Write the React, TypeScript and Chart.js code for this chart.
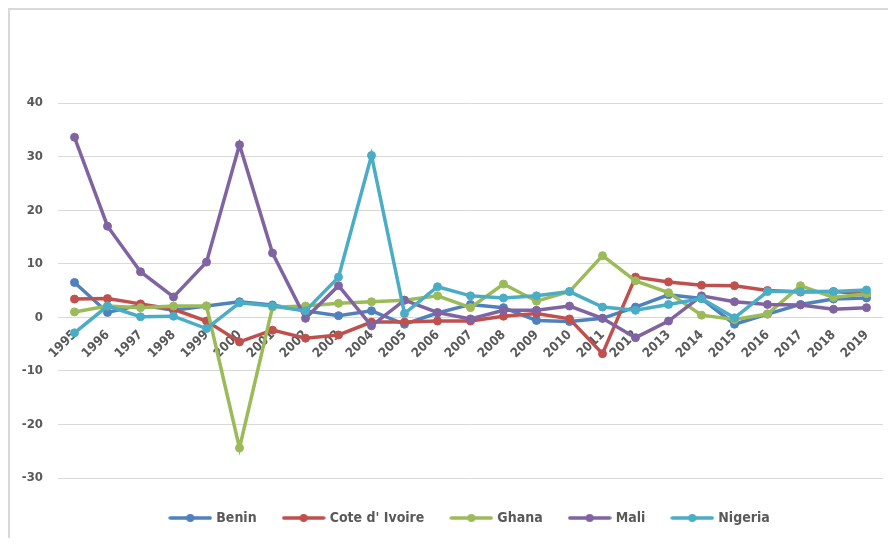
import React, { useEffect, useRef } from "react";
import { Chart, registerables } from "chart.js";

Chart.register(...registerables);

const years = [
  "1995", "1996", "1997", "1998", "1999", "2000", "2001", "2002", "2003", "2004",
  "2005", "2006", "2007", "2008", "2009", "2010", "2011", "2012", "2013", "2014",
  "2015", "2016", "2017", "2018", "2019",
];

const benin = [6.5, 0.9, 2.3, 1.3, 2.1, 2.9, 2.3, 1.2, 0.3, 1.2, -1.3, 0.8, 2.4, 1.8, -0.6, -0.8, -0.2, 1.9, 4.2, 3.5, -1.3, 0.6, 2.4, 3.4, 3.6];
const coteDIvoire = [3.4, 3.5, 2.5, 1.5, -0.7, -4.6, -2.4, -3.9, -3.3, -0.9, -0.9, -0.7, -0.7, 0.2, 0.7, -0.3, -6.8, 7.5, 6.6, 6.0, 5.9, 5.0, 4.7, 4.8, 4.4];
const ghana = [1.0, 2.1, 1.8, 2.1, 2.1, -24.4, 1.9, 2.1, 2.6, 2.9, 3.2, 4.0, 1.8, 6.2, 3.0, 4.8, 11.5, 6.8, 4.6, 0.4, -0.4, 0.6, 5.9, 3.7, 4.4];
const mali = [33.6, 17.0, 8.5, 3.8, 10.3, 32.2, 12.0, -0.2, 5.9, -1.6, 3.2, 0.9, -0.3, 1.3, 1.3, 2.1, -0.2, -3.8, -0.7, 4.0, 2.9, 2.4, 2.3, 1.5, 1.8];
const nigeria = [-2.9, 2.1, 0.1, 0.2, -2.1, 2.7, 2.1, 1.2, 7.5, 30.2, 0.7, 5.7, 4.0, 3.6, 4.0, 4.8, 1.9, 1.3, 2.4, 3.5, -0.1, 4.8, 4.8, 4.8, 5.1];

const seriesNames = ["Benin", "Cote d' Ivoire", "Ghana", "Mali", "Nigeria"];
const seriesColors = ["#4F81BD", "#C0504D", "#9BBB59", "#8064A2", "#4BACC6"];
const seriesValues = [benin, coteDIvoire, ghana, mali, nigeria];

const yMin = -30;
const yMax = 40;
const yStep = 10;

const FONT = "'Liberation Sans Narrow', 'DejaVu Sans Condensed', 'Liberation Sans', sans-serif";
const TEXT = "#595959";
const GRID = "#D9D9D9";

// Legend marker: a short line with a dot in the middle
function lineMarker(color: string): HTMLCanvasElement {
  const c = document.createElement("canvas");
  c.width = 44;
  c.height = 10;
  const g = c.getContext("2d")!;
  g.strokeStyle = color;
  g.lineWidth = 3.5;
  g.lineCap = "round";
  g.beginPath();
  g.moveTo(2, 5);
  g.lineTo(42, 5);
  g.stroke();
  g.fillStyle = color;
  g.beginPath();
  g.arc(22, 5, 4, 0, Math.PI * 2);
  g.fill();
  return c;
}

export default function App() {
  const ref = useRef<HTMLCanvasElement | null>(null);

  useEffect(() => {
    if (!ref.current) return;
    const chart = new Chart(ref.current, {
      type: "line",
      data: {
        labels: years,
        datasets: seriesNames.map((name, i) => ({
          label: name,
          data: seriesValues[i],
          borderColor: seriesColors[i],
          backgroundColor: seriesColors[i],
          pointBackgroundColor: seriesColors[i],
          pointBorderColor: seriesColors[i],
          pointStyle: "circle" as const,
          borderWidth: 3.5,
          pointRadius: 4,
          pointBorderWidth: 1,
          tension: 0,
          order: seriesNames.length - i,
        })),
      },
      options: {
        animation: false,
        responsive: true,
        maintainAspectRatio: false,
        layout: { padding: { top: 93, right: 3, left: 0, bottom: 3 } },
        plugins: {
          tooltip: { enabled: false },
          legend: {
            position: "bottom",
            fullSize: false,
            title: {
              display: true,
              text: "",
              padding: 0,
              font: { size: 5, lineHeight: 1 },
            },
            labels: {
              usePointStyle: true,
              pointStyleWidth: 38,
              padding: 28,
              color: TEXT,
              font: { family: FONT, size: 14, weight: "bold" },
              generateLabels: (ch: any) =>
                ch.data.datasets.map((ds: any, i: number) => ({
                  text: ds.label,
                  fillStyle: seriesColors[i],
                  strokeStyle: seriesColors[i],
                  fontColor: TEXT,
                  lineWidth: 0,
                  pointStyle: lineMarker(seriesColors[i]),
                  datasetIndex: i,
                  hidden: false,
                })),
            },
          },
        },
        scales: {
          x: {
            type: "category",
            offset: true,
            position: { y: 0 } as any,
            grid: { display: false, drawTicks: false },
            border: { display: false },
            ticks: {
              autoSkip: false,
              minRotation: 45,
              maxRotation: 45,
              padding: 10,
              color: TEXT,
              font: { family: FONT, size: 13, weight: "bold" },
            },
            afterFit: (s: any) => {
              s.height = 0;
            },
          },
          y: {
            min: yMin,
            max: yMax,
            grid: { color: GRID, lineWidth: 1, drawTicks: false },
            border: { display: false },
            ticks: {
              stepSize: yStep,
              padding: 15,
              color: TEXT,
              font: { family: FONT, size: 13, weight: "bold" },
            },
            afterFit: (s: any) => {
              s.width = 48;
            },
          },
        },
      },
    });
    return () => chart.destroy();
  }, []);

  return (
    <div
      style={{
        width: 878,
        height: 528,
        borderTop: "2px solid #D9D9D9",
        borderLeft: "2px solid #D9D9D9",
        background: "#fff",
        position: "relative",
      }}
    >
      <canvas ref={ref} />
    </div>
  );
}
